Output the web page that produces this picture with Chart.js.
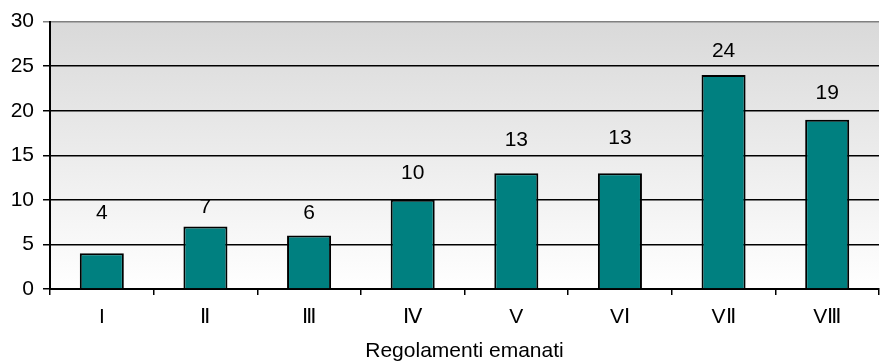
<!DOCTYPE html>
<html>
<head>
<meta charset="utf-8">
<script src="https://cdn.jsdelivr.net/npm/chart.js@4/dist/chart.umd.min.js"></script>
<style>
  html, body { margin: 0; padding: 0; background: #ffffff; }
  #wrap { width: 881px; height: 364px; position: relative; }
</style>
</head>
<body>
<div id="wrap"><canvas id="c" width="881" height="364"></canvas></div>
<script>
const categories = ["I", "Ⅱ", "Ⅲ", "Ⅳ", "V", "VⅠ", "VⅡ", "VⅢ"];
const values = [4, 7, 6, 10, 13, 13, 24, 19];
const yTicks = [0, 5, 10, 15, 20, 25, 30];
const axisTitle = "Regolamenti emanati";

// style: how far (px) each value label sits above its bar
const labelLift = [40, 19, 22, 27, 33, 35, 24, 26];

const FONT = "'Liberation Sans', Arial, sans-serif";
const FS = 21;

const bgPlugin = {
  id: 'bg',
  beforeDraw(chart) {
    const { ctx, chartArea: a } = chart;
    const g = ctx.createLinearGradient(0, a.top, 0, a.bottom);
    g.addColorStop(0, '#d9d9d9');
    g.addColorStop(1, '#ffffff');
    ctx.save();
    ctx.fillStyle = g;
    ctx.fillRect(a.left, a.top, a.right - a.left, a.bottom - a.top);
    ctx.restore();
  }
};

const labelPlugin = {
  id: 'vlabels',
  afterDatasetsDraw(chart) {
    const { ctx } = chart;
    const meta = chart.getDatasetMeta(0);
    ctx.save();
    ctx.font = FS + "px " + FONT;
    ctx.fillStyle = '#000';
    ctx.textAlign = 'center';
    ctx.textBaseline = 'middle';
    meta.data.forEach((bar, i) => {
      ctx.fillText(String(values[i]), bar.x, bar.y - labelLift[i]);
    });
    ctx.restore();
  }
};

new Chart(document.getElementById('c'), {
  type: 'bar',
  data: {
    labels: categories,
    datasets: [{
      data: values,
      backgroundColor: '#008080',
      borderColor: '#000000',
      borderWidth: 2,
      barPercentage: 0.425,
      categoryPercentage: 1.0
    }]
  },
  options: {
    responsive: false,
    animation: false,
    layout: { padding: { top: 20, right: 2, left: 0, bottom: 0 } },
    plugins: { legend: { display: false }, tooltip: { enabled: false } },
    scales: {
      x: {
        grid: { display: true, drawOnChartArea: false, offset: true, tickLength: 6, color: '#000', lineWidth: 1.5 },
        border: { display: true, color: '#000', width: 2 },
        ticks: { color: '#000', font: { family: FONT, size: FS }, padding: 10, maxRotation: 0 },
        title: { display: true, text: axisTitle, color: '#000', font: { family: FONT, size: FS }, padding: { top: 5, bottom: 0 } },
        afterFit(s) { s.height = 75; }
      },
      y: {
        min: 0, max: 30,
        afterBuildTicks(s) { s.ticks = yTicks.map(v => ({ value: v })); },
        grid: {
          color: (c) => (c.tick && c.tick.value === 30) ? '#808080' : '#000',
          lineWidth: 1.5,
          tickLength: 7
        },
        border: { display: true, color: '#000', width: 2 },
        ticks: { color: '#000', font: { family: FONT, size: FS }, padding: 9 },
        afterFit(s) { s.width = 50; }
      }
    }
  },
  plugins: [bgPlugin, labelPlugin]
});
</script>
</body>
</html>
